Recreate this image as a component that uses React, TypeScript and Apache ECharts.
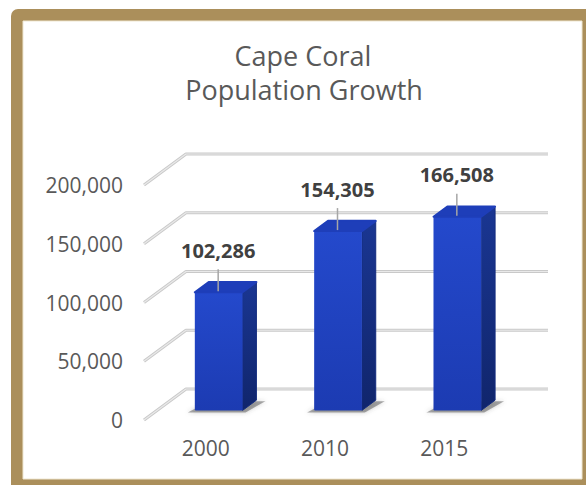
import React, { useEffect, useRef } from "react";
import * as echarts from "echarts";

const categories = ["2000", "2010", "2015"];
const population = [102286, 154305, 166508];
const yTicks = [0, 50000, 100000, 150000, 200000];
const titleLines = ["Cape Coral", "Population Growth"];

const fmt = (v: number) => Number(v).toLocaleString("en-US");

export default function App() {
  const ref = useRef<HTMLDivElement>(null);
  useEffect(() => {
    if (!ref.current) return;
    const chart = echarts.init(ref.current, null, { renderer: "svg" });
    const DX = 42, DY = -31; // depth vector
    const t0 = 0.31, t1 = 0.64;
    const titleStyle = {
      fontFamily: "Open Sans",
      fontSize: 27,
      fontWeight: "normal",
      color: "#595959",
      lineHeight: 30,
    };
    const option: any = {
      animation: false,
      backgroundColor: "#ffffff",
      title: [
        {
          text: titleLines[0],
          left: 303,
          top: 40,
          padding: 0,
          textAlign: "center",
          textStyle: titleStyle,
        },
        {
          text: titleLines[1],
          left: 304,
          top: 74,
          padding: 0,
          textAlign: "center",
          textStyle: titleStyle,
        },
      ],
      graphic: [
        {
          type: "rect",
          z: -100,
          silent: true,
          shape: { x: 11, y: 9, width: 600, height: 500, r: [7, 0, 0, 0] },
          style: { fill: "#AB8F5B" },
        },
        {
          type: "rect",
          z: -99,
          silent: true,
          shape: { x: 23, y: 21, width: 559, height: 458 },
          style: { fill: "#ffffff", stroke: "#EFE7D2", lineWidth: 1 },
        },
      ],
      grid: { left: 146, top: 185, bottom: 65, width: 358 },
      xAxis: {
        type: "category",
        data: categories,
        axisLine: { show: false },
        axisTick: { show: false },
        splitLine: { show: false },
        axisLabel: {
          margin: 17,
          fontFamily: "Open Sans",
          fontSize: 21,
          color: "#595959",
        },
      },
      yAxis: {
        type: "value",
        min: 0,
        max: 200000,
        interval: 50000,
        axisLine: { show: false },
        axisTick: { show: false },
        splitLine: { show: false },
        axisLabel: {
          margin: 23,
          fontFamily: "Open Sans",
          fontSize: 21,
          color: "#595959",
          formatter: (v: number) => fmt(v),
        },
      },
      series: [
        {
          type: "custom",
          z: 1,
          silent: true,
          data: yTicks.map((v) => [0, v]),
          renderItem: (params: any, api: any) => {
            const cs = params.coordSys;
            const y = api.coord([0, api.value(1)])[1];
            const pts = [
              [cs.x - 2, y],
              [cs.x - 2 + DX, y + DY],
              [cs.x + cs.width + DX + 2, y + DY],
            ];
            return {
              type: "group",
              children: [
                {
                  type: "polyline",
                  shape: { points: pts },
                  style: { stroke: "#C9C9C9", lineWidth: 3.2, fill: null, lineJoin: "round" },
                },
                {
                  type: "polyline",
                  shape: { points: pts },
                  style: { stroke: "#E9E9E9", lineWidth: 1.2, fill: null, lineJoin: "round" },
                },
              ],
            };
          },
        },
        {
          type: "custom",
          z: 3,
          silent: true,
          data: population.map((v, i) => [i, v]),
          renderItem: (params: any, api: any) => {
            const idx = api.value(0);
            const val = api.value(1);
            const top = api.coord([idx, val]);
            const bot = api.coord([idx, 0]);
            const band = api.size([1, 0])[0];
            const w = band * 0.4;
            const c = top[0];
            const fx = DX * t0, fy = DY * t0;
            const sx = DX * (t1 - t0), sy = DY * (t1 - t0);
            const x0 = c + fx - w / 2;
            const x1 = x0 + w;
            const yT = top[1] + fy + 2;
            const yB = bot[1] + fy;
            return {
              type: "group",
              children: [
                {
                  type: "polygon",
                  shape: {
                    points: [
                      [x0 - 7, yB + 2],
                      [x1 + 3, yB + 2],
                      [x1 + sx + 9, yB + sy + 1],
                      [x0 + sx, yB + sy + 1],
                    ],
                  },
                  style: {
                    fill: "rgba(70,70,70,0.45)",
                    shadowBlur: 4,
                    shadowColor: "rgba(70,70,70,0.6)",
                  },
                },
                {
                  type: "polygon",
                  shape: {
                    points: [
                      [x1, yT],
                      [x1 + sx, yT + sy],
                      [x1 + sx, yB + sy],
                      [x1, yB],
                    ],
                  },
                  style: {
                    fill: new echarts.graphic.LinearGradient(0, 0, 0, 1, [
                      { offset: 0, color: "#1A3692" },
                      { offset: 1, color: "#10256C" },
                    ]),
                    stroke: "#142C7E",
                    lineWidth: 1,
                    lineJoin: "round",
                  },
                },
                {
                  type: "rect",
                  shape: { x: x0, y: yT, width: w, height: yB - yT, r: [1, 1, 1, 1] },
                  style: {
                    fill: new echarts.graphic.LinearGradient(0, 0, 0, 1, [
                      { offset: 0, color: "#2449CC" },
                      { offset: 1, color: "#1C3BB2" },
                    ]),
                  },
                },
                {
                  type: "polygon",
                  shape: {
                    points: [
                      [x0, yT],
                      [x1, yT],
                      [x1 + sx, yT + sy],
                      [x0 + sx, yT + sy],
                    ],
                  },
                  style: {
                    fill: "#1E3EB9",
                    stroke: "#1E3EB9",
                    lineWidth: 2,
                    lineJoin: "round",
                  },
                },
                {
                  type: "line",
                  shape: { x1: c + 12.5, y1: yT - 23, x2: c + 12.5, y2: yT - 1 },
                  style: { stroke: "#A6A6A6", lineWidth: 1.5 },
                },
                {
                  type: "text",
                  style: {
                    text: fmt(val),
                    x: c + 12.5,
                    y: yT - 42,
                    textAlign: "center",
                    textVerticalAlign: "middle",
                    fill: "#404040",
                    fontFamily: "Open Sans",
                    fontSize: 20,
                    fontWeight: "bold",
                  },
                },
              ],
            };
          },
        },
      ],
    };
    chart.setOption(option);
    return () => chart.dispose();
  }, []);
  return (
    <div
      ref={ref}
      style={{ position: "fixed", left: 0, top: 0, width: 586, height: 485 }}
    />
  );
}
